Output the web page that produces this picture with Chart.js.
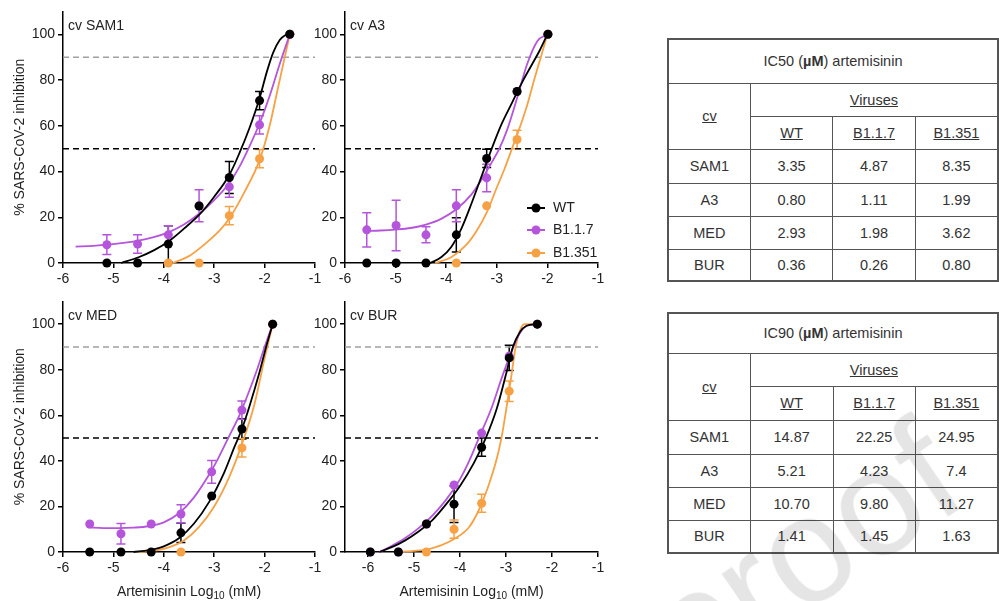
<!DOCTYPE html>
<html>
<head>
<meta charset="utf-8">
<script src="https://cdn.jsdelivr.net/npm/chart.js@4.4.0/dist/chart.umd.min.js"></script>
<style>
  body { margin:0; width:999px; height:601px; overflow:hidden; background:#fff; position:relative;
         font-family:"Liberation Sans", Arial, sans-serif; }
  canvas { position:absolute; }
  table { position:absolute; left:667px; border-collapse:collapse; table-layout:fixed;
          font-size:14.5px; color:#333; border:2px solid #555; }
  td { border:1px solid #555; text-align:center; padding:0; }
  .u { text-decoration:underline; }
  #wm { position:absolute; left:968px; top:495px; width:0; height:0; transform:rotate(-34deg);
        transform-origin:0 0; pointer-events:none; }
  #wm span { position:absolute; right:0; bottom:-30px; font:150px "Liberation Sans", Arial, sans-serif;
             color:rgba(0,0,0,0.1); white-space:nowrap; line-height:1; }
</style>
</head>
<body>
<canvas id="c1" width="325" height="290" style="left:0;top:0"></canvas>
<canvas id="c2" width="320" height="290" style="left:290px;top:0"></canvas>
<canvas id="c3" width="325" height="311" style="left:0;top:290px"></canvas>
<canvas id="c4" width="320" height="311" style="left:290px;top:290px"></canvas>
<table id="t50" style="top:38px"></table>
<table id="t90" style="top:312px"></table>
<div id="wm"><span>Pre-proof</span></div>

<script>
// series + colours
const series = ['WT', 'B1.1.7', 'B1.351'];
const colors = ['#000000', '#b455dc', '#f7a145'];
const thresholds = [90, 50];

// axis ticks
const yTicks = [0, 20, 40, 60, 80, 100];
const xTicks = [-6, -5, -4, -3, -2, -1];

// ---- cv SAM1 ----
const samDose = [-5.13, -4.52, -3.91, -3.30, -2.70, -2.10, -1.50];
const samWT = [0, 0, 8.3, 24.9, 37.4, 71.0, 100];
const samWTErr = [0, 0, 8, 0, 7, 4, 0];
const samB117 = [8.0, 8.3, 12.3, 25.0, 33.3, 60.4, 100];
const samB117Err = [4.3, 4, 4, 7, 4.5, 4, 0];
const samB1351 = [null, null, 0, 0, 20.7, 45.6, 100];
const samB1351Err = [0, 0, 0, 0, 4, 4, 0];
const samWTFitX = [-4.85, -4.5, -4.2, -3.9, -3.6, -3.3, -3.0, -2.7, -2.5, -2.3, -2.1, -1.95, -1.83, -1.7, -1.6, -1.5];
const samWTFitY = [0, 2.5, 5.5, 9.5, 15, 21, 29, 38.5, 48, 59, 72, 84, 92, 97.5, 99.5, 100];
const samB117FitX = [-5.75, -5.4, -5.1, -4.8, -4.5, -4.2, -3.9, -3.6, -3.3, -3.0, -2.7, -2.5, -2.3, -2.1, -1.9, -1.7, -1.5];
const samB117FitY = [7.2, 7.5, 8, 8.8, 9.8, 11.3, 13.5, 16.8, 21.5, 27.5, 35, 42, 51, 61, 73, 87, 100];
const samB1351FitX = [-3.82, -3.5, -3.2, -2.9, -2.7, -2.4, -2.1, -1.9, -1.75, -1.6, -1.5];
const samB1351FitY = [0, 3, 8, 14, 19.5, 31, 45, 60, 75, 90, 100];

// ---- cv A3 ----
const a3Dose = [-5.57, -4.99, -4.40, -3.80, -3.20, -2.60, -1.99];
const a3WT = [0, 0, 0, 12.3, 45.7, 75, 100];
const a3WTErr = [0, 0, 0, 7.5, 4, 0, 0];
const a3B117 = [14.5, 16.4, 12.3, 25, 37.2, 75, 100];
const a3B117Err = [7.5, 11, 3.5, 7, 6, 0, 0];
const a3B1351 = [null, null, null, 0, 25, 54, 100];
const a3B1351Err = [0, 0, 0, 0, 0, 4, 0];
const a3WTFitX = [-4.32, -4.1, -3.9, -3.7, -3.5, -3.3, -3.1, -2.9, -2.7, -2.5, -2.3, -2.15, -2.0];
const a3WTFitY = [0, 2.5, 7, 15, 26, 38, 50, 61, 70, 79, 87, 93, 100];
const a3B117FitX = [-5.6, -5.3, -5.0, -4.7, -4.4, -4.1, -3.8, -3.5, -3.3, -3.1, -2.95, -2.8, -2.6, -2.4, -2.2, -2.0];
const a3B117FitY = [14, 14.2, 14.6, 15.3, 16.8, 19.3, 23.5, 30, 36.5, 44, 50, 58, 72, 87, 97, 100];
const a3B1351FitX = [-4.22, -3.9, -3.6, -3.4, -3.2, -3.0, -2.85, -2.7, -2.55, -2.4, -2.25, -2.13, -2.0];
const a3B1351FitY = [0, 2.5, 8, 14, 22, 33, 41, 50, 59, 69, 81, 90, 100];

// ---- cv MED ----
const medDose = [-5.47, -4.85, -4.25, -3.66, -3.05, -2.45, -1.84];
const medWT = [0, 0, 0, 8.4, 24.6, 54, 100];
const medWTErr = [0, 0, 0, 4.2, 0, 4.5, 0];
const medB117 = [12.3, 8, 12.3, 16.7, 35.2, 62.3, 100];
const medB117Err = [0, 4.5, 0, 4, 5, 4, 0];
const medB1351 = [null, null, null, 0, null, 45.7, 100];
const medB1351Err = [0, 0, 0, 0, 0, 4, 0];
const medWTFitX = [-4.6, -4.3, -4.0, -3.7, -3.4, -3.1, -2.8, -2.6, -2.45, -2.3, -2.1, -1.97, -1.84];
const medWTFitY = [0, 0.8, 2.5, 6, 12.5, 22, 35, 46, 54, 64, 79, 90, 100];
const medB117FitX = [-5.5, -5.2, -4.9, -4.6, -4.3, -4.0, -3.7, -3.4, -3.1, -2.9, -2.7, -2.5, -2.3, -2.15, -2.0, -1.84];
const medB117FitY = [10.8, 10.5, 10.5, 10.7, 11.3, 13, 17, 24, 34, 42, 51, 60, 71, 80, 90, 100];
const medB1351FitX = [-4.5, -4.2, -3.9, -3.6, -3.3, -3.0, -2.7, -2.44, -2.2, -2.0, -1.84];
const medB1351FitY = [0, 0.5, 2, 5, 11, 20, 33, 48, 65, 85, 100];

// ---- cv BUR ----
const burDose = [-5.95, -5.34, -4.73, -4.13, -3.53, -2.93, -2.32];
const burWT = [0, 0, 12.3, 21, 46, 85.2, 100];
const burWTErr = [0, 0, 0, 8, 4, 5.5, 0];
const burB117 = [0, 0, 12.3, 29.4, 52.2, 86, 100];
const burB117Err = [0, 0, 0, 0, 0, 0, 0];
const burB1351 = [null, null, 0, 10, 21.4, 70.6, 100];
const burB1351Err = [0, 0, 0, 4, 4, 4.5, 0];
const burWTFitX = [-5.75, -5.5, -5.2, -4.9, -4.6, -4.3, -4.0, -3.7, -3.44, -3.2, -3.0, -2.85, -2.7, -2.55, -2.32];
const burWTFitY = [0, 2, 5, 9, 14, 21, 29, 39, 50, 63, 78, 90, 96.5, 99.3, 100];
const burB117FitX = [-5.75, -5.5, -5.2, -4.9, -4.6, -4.3, -4.0, -3.8, -3.59, -3.3, -3.1, -2.84, -2.7, -2.55, -2.32];
const burB117FitY = [0, 2.5, 6, 10.5, 16, 23, 32, 40, 50, 64, 76, 90, 96, 99.3, 100];
const burB1351FitX = [-5.4, -5.0, -4.7, -4.4, -4.1, -3.8, -3.6, -3.4, -3.2, -3.1, -3.0, -2.9, -2.79, -2.7, -2.6, -2.32];
const burB1351FitY = [0, 0.5, 1.2, 3, 6, 11, 18, 28, 41, 50, 62, 75, 90, 97, 100, 100];

// ---- tables ----
const cultivars = ['SAM1', 'A3', 'MED', 'BUR'];
const ic50 = [['3.35', '4.87', '8.35'], ['0.80', '1.11', '1.99'], ['2.93', '1.98', '3.62'], ['0.36', '0.26', '0.80']];
const ic90 = [['14.87', '22.25', '24.95'], ['5.21', '4.23', '7.4'], ['10.70', '9.80', '11.27'], ['1.41', '1.45', '1.63']];

const FONT = '"Liberation Sans", Arial, sans-serif';

function pts(xs, ys, es) {
  return xs.map((x, i) => ({ x: x, y: ys[i], e: es ? es[i] : 0 })).filter(p => p.y !== null);
}

// error bars under the markers
const errorBars = {
  id: 'errorBars',
  beforeDatasetsDraw(chart) {
    const ctx = chart.ctx, xs = chart.scales.x, ys = chart.scales.y;
    chart.data.datasets.forEach(ds => {
      if (!ds.isPoints) return;
      ctx.save();
      ctx.strokeStyle = ds.borderColor;
      ctx.lineWidth = 1.5;
      ds.data.forEach(p => {
        if (!p.e) return;
        const px = xs.getPixelForValue(p.x);
        const y1 = ys.getPixelForValue(p.y + p.e), y2 = ys.getPixelForValue(Math.max(p.y - p.e, 0));
        ctx.beginPath();
        ctx.moveTo(px, y1); ctx.lineTo(px, y2);
        ctx.moveTo(px - 4.5, y1); ctx.lineTo(px + 4.5, y1);
        ctx.moveTo(px - 4.5, y2); ctx.lineTo(px + 4.5, y2);
        ctx.stroke();
      });
      ctx.restore();
    });
  }
};

// panel label, x title with subscript, legend
const panelText = {
  id: 'panelText',
  afterDraw(chart, args, opts) {
    const ctx = chart.ctx, a = chart.chartArea;
    ctx.save();
    ctx.fillStyle = '#222';
    ctx.font = '14px ' + FONT;
    ctx.textBaseline = 'middle';
    ctx.textAlign = 'left';
    ctx.fillText(opts.label, a.left + 5, a.top + 15);

    if (opts.xTitle) {
      const p1 = 'Artemisinin Log', sub = '10', p2 = ' (mM)';
      ctx.font = '14px ' + FONT;
      const w1 = ctx.measureText(p1).width, w3 = ctx.measureText(p2).width;
      ctx.font = '10px ' + FONT;
      const w2 = ctx.measureText(sub).width;
      let x = (a.left + a.right) / 2 - (w1 + w2 + w3) / 2;
      const y = a.bottom + 40;
      ctx.font = '14px ' + FONT;
      ctx.fillText(p1, x, y); x += w1;
      ctx.font = '10px ' + FONT;
      ctx.fillText(sub, x, y + 4); x += w2;
      ctx.font = '14px ' + FONT;
      ctx.fillText(p2, x, y);
    }

    if (opts.legend) {
      const rows = [a.bottom - 55, a.bottom - 33, a.bottom - 10];
      series.forEach((s, i) => {
        const y = rows[i];
        ctx.strokeStyle = colors[i];
        ctx.lineWidth = 2;
        ctx.beginPath(); ctx.moveTo(a.right - 71, y); ctx.lineTo(a.right - 53, y); ctx.stroke();
        ctx.fillStyle = colors[i];
        ctx.beginPath(); ctx.arc(a.right - 62, y, 4.5, 0, Math.PI * 2); ctx.fill();
        ctx.fillStyle = '#222';
        ctx.font = '14px ' + FONT;
        ctx.fillText(s, a.right - 45, y);
      });
    }
    ctx.restore();
  }
};

function makePanel(id, o) {
  const datasets = [];
  thresholds.forEach(t => {
    datasets.push({
      data: [{ x: o.xMin, y: t }, { x: -1, y: t }],
      showLine: true, pointRadius: 0, borderWidth: 1.5, borderDash: [6, 4],
      borderColor: t === 90 ? '#a0a0a0' : '#000', order: 5, clip: false
    });
  });
  o.sets.forEach((s, i) => {
    datasets.push({
      data: pts(s.fx, s.fy), showLine: true, pointRadius: 0, borderWidth: 1.8,
      borderColor: colors[i], cubicInterpolationMode: 'monotone', order: i + 1, clip: false
    });
    datasets.push({
      data: pts(o.dose, s.v, s.e), showLine: false, pointRadius: 4.5, isPoints: true,
      backgroundColor: colors[i], borderColor: colors[i], borderWidth: 0, order: i + 1, clip: false
    });
  });

  new Chart(document.getElementById(id), {
    type: 'scatter',
    data: { datasets: datasets },
    options: {
      responsive: false, animation: false, events: [],
      layout: { padding: { left: 0, right: o.padR, top: o.padT, bottom: 0 } },
      plugins: {
        legend: { display: false }, tooltip: { enabled: false },
        panelText: { label: o.label, xTitle: o.xTitle, legend: o.legend }
      },
      scales: {
        x: {
          type: 'linear', min: o.xMin, max: -1,
          afterBuildTicks: s => { s.ticks = xTicks.map(v => ({ value: v })); },
          afterFit: s => { s.height = o.xH; },
          ticks: { font: { size: 14, family: FONT }, color: '#222', padding: 3 },
          grid: { drawOnChartArea: false, tickLength: 5, color: '#000', lineWidth: 1.5 },
          border: { color: '#000', width: 1.5 }
        },
        y: {
          min: 0, max: 110,
          afterBuildTicks: s => { s.ticks = yTicks.map(v => ({ value: v })); },
          afterFit: s => { s.width = o.yW; },
          ticks: { font: { size: 14, family: FONT }, color: '#222', padding: 3 },
          grid: { drawOnChartArea: false, tickLength: 5, color: '#000', lineWidth: 1.5 },
          border: { color: '#000', width: 1.5 },
          title: { display: o.yTitle, text: '% SARS-CoV-2 inhibition', color: '#222',
                   font: { size: 14, family: FONT }, padding: { top: 12, bottom: 0 } }
        }
      }
    },
    plugins: [errorBars, panelText]
  });
}

makePanel('c1', {
  label: 'cv SAM1', dose: samDose, xMin: -6, yTitle: true, yW: 63, padR: 10, padT: 10, xH: 27,
  sets: [
    { v: samWT, e: samWTErr, fx: samWTFitX, fy: samWTFitY },
    { v: samB117, e: samB117Err, fx: samB117FitX, fy: samB117FitY },
    { v: samB1351, e: samB1351Err, fx: samB1351FitX, fy: samB1351FitY }
  ]
});
makePanel('c2', {
  label: 'cv A3', dose: a3Dose, xMin: -6, yTitle: false, yW: 55, padR: 12, padT: 10, xH: 27, legend: true,
  sets: [
    { v: a3WT, e: a3WTErr, fx: a3WTFitX, fy: a3WTFitY },
    { v: a3B117, e: a3B117Err, fx: a3B117FitX, fy: a3B117FitY },
    { v: a3B1351, e: a3B1351Err, fx: a3B1351FitX, fy: a3B1351FitY }
  ]
});
makePanel('c3', {
  label: 'cv MED', dose: medDose, xMin: -6, yTitle: true, yW: 63, padR: 10, padT: 9, xH: 49, xTitle: true,
  sets: [
    { v: medWT, e: medWTErr, fx: medWTFitX, fy: medWTFitY },
    { v: medB117, e: medB117Err, fx: medB117FitX, fy: medB117FitY },
    { v: medB1351, e: medB1351Err, fx: medB1351FitX, fy: medB1351FitY }
  ]
});
makePanel('c4', {
  label: 'cv BUR', dose: burDose, xMin: -6.5, yTitle: false, yW: 55, padR: 12, padT: 9, xH: 49, xTitle: true,
  sets: [
    { v: burWT, e: burWTErr, fx: burWTFitX, fy: burWTFitY },
    { v: burB117, e: burB117Err, fx: burB117FitX, fy: burB117FitY },
    { v: burB1351, e: burB1351Err, fx: burB1351FitX, fy: burB1351FitY }
  ]
});

// tables
function buildTable(id, title, vals, heights) {
  const t = document.getElementById(id);
  let h = '<colgroup><col style="width:85px"><col style="width:86px"><col style="width:85px"><col style="width:85px"></colgroup>';
  h += '<tr style="height:' + heights[0] + 'px"><td colspan="4">' + title + '</td></tr>';
  h += '<tr style="height:' + heights[1] + 'px"><td rowspan="2"><span class="u">cv</span></td><td colspan="3"><span class="u">Viruses</span></td></tr>';
  h += '<tr style="height:' + heights[2] + 'px">' + series.map(s => '<td><span class="u">' + s + '</span></td>').join('') + '</tr>';
  cultivars.forEach((c, i) => {
    h += '<tr style="height:' + heights[3 + i] + 'px"><td>' + c + '</td>' + vals[i].map(v => '<td>' + v + '</td>').join('') + '</tr>';
  });
  t.innerHTML = h;
}
buildTable('t50', 'IC50 (<b>µM</b>) artemisinin', ic50, [44, 33, 33, 34, 33, 33, 32]);
buildTable('t90', 'IC90 (<b>µM</b>) artemisinin', ic90, [40, 33, 34, 34, 33, 33, 33]);
</script>
</body>
</html>
